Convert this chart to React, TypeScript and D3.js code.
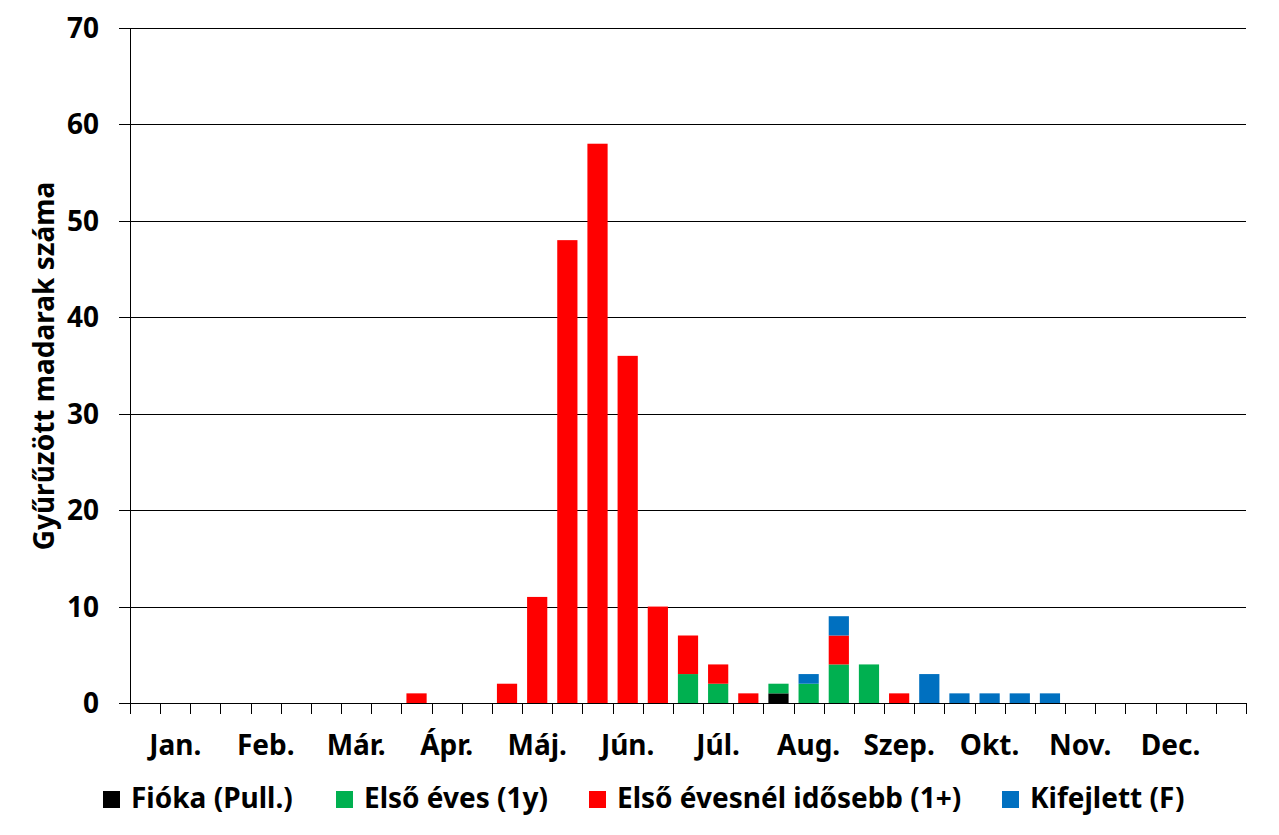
import React from "react";
import * as d3 from "d3";

const categories: string[] = [
  "", "Jan.", "", "", "Feb.", "", "", "Már.", "", "", "Ápr.", "", "", "Máj.", "", "", "Jún.", "", "",
  "Júl.", "", "", "Aug.", "", "", "Szep.", "", "", "Okt.", "", "", "Nov.", "", "", "Dec.", "", "",
];
// Each index is one ten-day slot; 37 slots
const pull: number[] = [0,0,0,0,0,0,0,0,0,0,0,0,0,0,0,0,0,0,0,0,0,1,0,0,0,0,0,0,0,0,0,0,0,0,0,0,0];
const firstYear: number[] = [0,0,0,0,0,0,0,0,0,0,0,0,0,0,0,0,0,0,3,2,0,1,2,4,4,0,0,0,0,0,0,0,0,0,0,0,0];
const older: number[] = [0,0,0,0,0,0,0,0,0,1,0,0,2,11,48,58,36,10,4,2,1,0,0,3,0,1,0,0,0,0,0,0,0,0,0,0,0];
const adult: number[] = [0,0,0,0,0,0,0,0,0,0,0,0,0,0,0,0,0,0,0,0,0,0,1,2,0,0,3,1,1,1,1,0,0,0,0,0,0];
const seriesNames: string[] = ["Fióka (Pull.)", "Első éves (1y)", "Első évesnél idősebb (1+)", "Kifejlett (F)"];
const seriesColors: string[] = ["#000000", "#00B050", "#FF0000", "#0070C0"];
const yTicks: number[] = [0, 10, 20, 30, 40, 50, 60, 70];
const yTitle = "Gyűrűzött madarak száma";

const FONT = "'Noto Sans', sans-serif";
const FS = 28;

export default function App() {
  const W = 1279, H = 835;
  const left = 130, right = 1246, top = 28, bottom = 703;
  const idx = categories.map((_, i) => i);
  const x = d3.scaleBand<number>().domain(idx).range([left, right]).paddingInner(0.33).paddingOuter(0.165);
  const step = (right - left) / categories.length;
  const y = d3.scaleLinear().domain([0, 70]).range([bottom, top]);

  const table = idx.map((i) => ({ i, s0: pull[i], s1: firstYear[i], s2: older[i], s3: adult[i] }));
  const stack = d3.stack<any>().keys(["s0", "s1", "s2", "s3"])(table);

  const legendTextX = [131, 364, 617, 1030];

  return (
    <svg width={W} height={H} style={{ position: "absolute", left: 0, top: 0, background: "#fff" }} fontFamily={FONT}>
      {yTicks.map((t) => (
        <g key={t}>
          <line x1={119} x2={t === 0 ? left : right} y1={Math.round(y(t)) + 0.5} y2={Math.round(y(t)) + 0.5} stroke="#000" strokeWidth={1} />
          <text x={99} y={y(t) + 10} textAnchor="end" fontSize={FS} fontWeight="bold">{t}</text>
        </g>
      ))}
      {stack.map((layer, k) => (
        <g key={k} fill={seriesColors[k]}>
          {layer.map((d, i) => d[1] - d[0] > 0 ? (
            <rect key={i} x={x(i)!} width={x.bandwidth()} y={y(d[1])} height={y(d[0]) - y(d[1])} />
          ) : null)}
        </g>
      ))}
      <line x1={left + 0.5} x2={left + 0.5} y1={top} y2={bottom} stroke="#000" />
      <line x1={left} x2={right} y1={bottom + 0.5} y2={bottom + 0.5} stroke="#000" />
      {d3.range(categories.length + 1).map((k) => (
        <line key={k} x1={Math.round(left + k * step) + 0.5} x2={Math.round(left + k * step) + 0.5} y1={bottom} y2={bottom + 11} stroke="#000" />
      ))}
      {categories.map((c, i) => c ? (
        <text key={i} x={x(i)! + x.bandwidth() / 2} y={755} textAnchor="middle" fontSize={FS} fontWeight="bold">{c}</text>
      ) : null)}
      <text transform={`translate(54,366) rotate(-90)`} textAnchor="middle" fontSize={FS} fontWeight="bold">{yTitle}</text>
      {seriesNames.map((n, k) => (
        <g key={n}>
          <rect x={legendTextX[k] - 28} y={791} width={17} height={17} fill={seriesColors[k]} />
          <text x={legendTextX[k]} y={808} fontSize={FS} fontWeight="bold">{n}</text>
        </g>
      ))}
    </svg>
  );
}
